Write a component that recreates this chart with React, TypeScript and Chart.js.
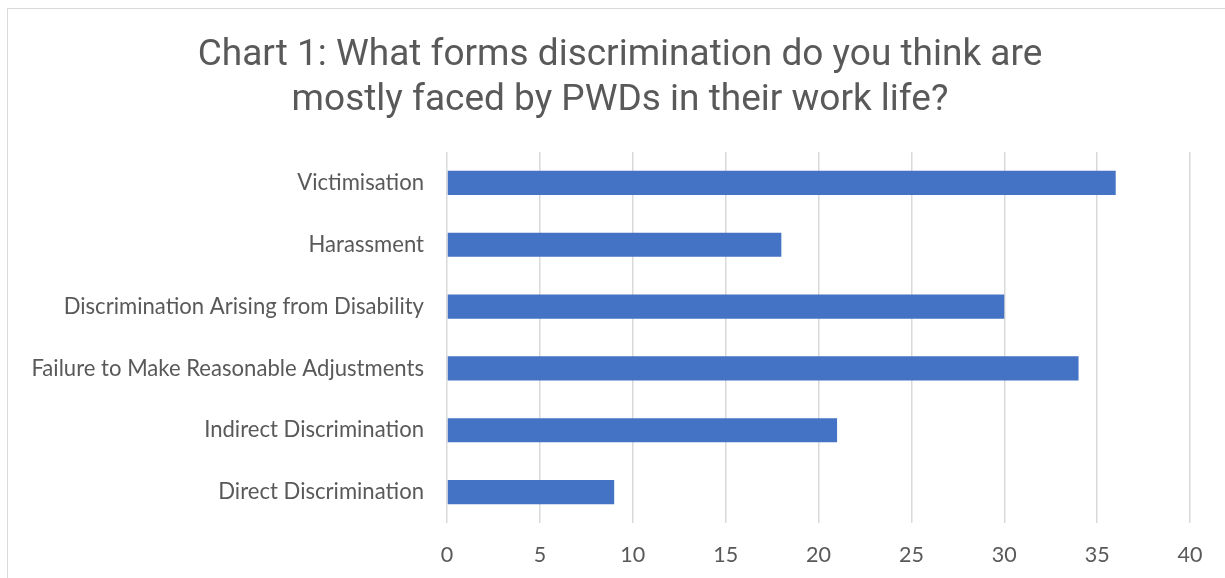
import React, { useEffect, useRef } from "react";
import { Chart, registerables } from "chart.js";

Chart.register(...registerables);

const categories = [
  "Victimisation",
  "Harassment",
  "Discrimination Arising from Disability",
  "Failure to Make Reasonable Adjustments",
  "Indirect Discrimination",
  "Direct Discrimination",
];
const values = [36, 18, 30, 34, 21, 9];
const titleLines = [
  "Chart 1: What forms discrimination do you think are",
  "mostly faced by PWDs in their work life?",
];

const titlePlugin = {
  id: "centeredTitle",
  afterDraw(chart: any) {
    const ctx = chart.ctx as CanvasRenderingContext2D;
    ctx.save();
    ctx.fillStyle = "#595959";
    ctx.font = "37px Roboto";
    ctx.textAlign = "center";
    ctx.textBaseline = "alphabetic";
    titleLines.forEach((line, i) => {
      ctx.fillText(line, 620, 65 + i * 45);
    });
    ctx.restore();
  },
};

export default function App() {
  const ref = useRef<HTMLCanvasElement | null>(null);
  useEffect(() => {
    document.body.style.overflow = "hidden";
    const ctx = ref.current!;
    const chart = new Chart(ctx, {
      type: "bar",
      data: {
        labels: categories,
        datasets: [
          {
            data: values,
            backgroundColor: "#4472C4",
            borderWidth: 0,
            barPercentage: 1,
            categoryPercentage: 0.39,
          },
        ],
      },
      plugins: [titlePlugin],
      options: {
        indexAxis: "y",
        animation: false,
        responsive: false,
        layout: { padding: { left: 0, right: 35, top: 152, bottom: 0 } },
        plugins: {
          legend: { display: false },
          tooltip: { enabled: false },
          title: { display: false },
        },
        scales: {
          x: {
            min: 0,
            max: 40,
            ticks: {
              stepSize: 5,
              color: "#595959",
              font: { family: "Lato", size: 21.5 },
              padding: 19,
            },
            grid: { color: "#d9d9d9", lineWidth: 1.5, drawTicks: false },
            border: { display: false },
            afterFit: (s: any) => {
              s.height = 55;
            },
          },
          y: {
            ticks: {
              color: "#595959",
              font: { family: "Lato", size: 22.1 },
              padding: 23,
            },
            grid: { display: false, drawTicks: false },
            border: { display: false },
            afterFit: (s: any) => {
              s.width = 447;
            },
          },
        },
      },
    });
    return () => chart.destroy();
  }, []);
  return (
    <div style={{ position: "absolute", left: 0, top: 0, width: 1225, height: 578, overflow: "hidden" }}>
      <div
        style={{
          position: "absolute",
          left: 7,
          top: 8,
          width: 1300,
          height: 700,
          border: "1.5px solid #d9d9d9",
          background: "#fff",
        }}
      />
      <canvas ref={ref} width={1225} height={578} style={{ position: "absolute", left: 0, top: 0 }} />
    </div>
  );
}
